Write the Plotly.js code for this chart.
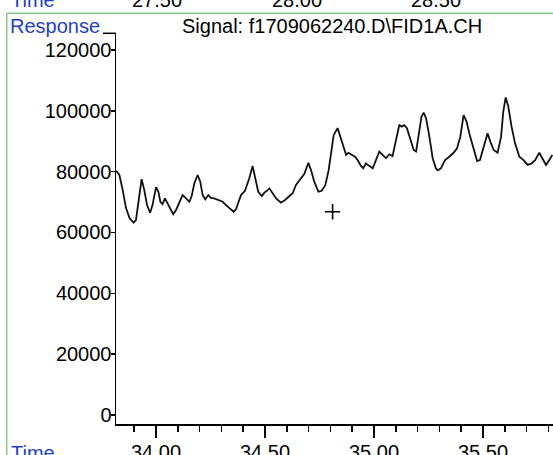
<!DOCTYPE html>
<html>
<head>
<meta charset="utf-8">
<script src="https://cdn.plot.ly/plotly-3.0.1.min.js"></script>
<style>
html,body{margin:0;padding:0;background:#fff;}
#chart{width:553px;height:455px;}
</style>
</head>
<body>
<div id="chart"></div>
<script>
// Signal trace (retention time in minutes, detector response)
const time = [
  33.817, 33.832, 33.847, 33.862, 33.878, 33.897, 33.908, 33.920, 33.934, 33.946,
  33.959, 33.973, 33.984, 34.000, 34.011, 34.020, 34.030, 34.041, 34.053, 34.066,
  34.079, 34.092, 34.107, 34.122, 34.138, 34.153, 34.163, 34.176, 34.191, 34.203,
  34.214, 34.226, 34.240, 34.252, 34.267, 34.283, 34.306, 34.321, 34.336, 34.356,
  34.367, 34.390, 34.408, 34.428, 34.443, 34.454, 34.469, 34.486, 34.497, 34.509,
  34.520, 34.535, 34.551, 34.573, 34.592, 34.612, 34.627, 34.642, 34.662, 34.680,
  34.699, 34.711, 34.726, 34.745, 34.760, 34.777, 34.792, 34.803, 34.815, 34.833,
  34.845, 34.861, 34.872, 34.882, 34.897, 34.913, 34.925, 34.940, 34.951, 34.963,
  34.978, 34.994, 35.009, 35.024, 35.039, 35.055, 35.070, 35.085, 35.101, 35.116,
  35.127, 35.139, 35.151, 35.167, 35.182, 35.193, 35.205, 35.218, 35.228, 35.239,
  35.254, 35.269, 35.284, 35.292, 35.307, 35.326, 35.345, 35.365, 35.381, 35.396,
  35.411, 35.425, 35.437, 35.452, 35.473, 35.486, 35.503, 35.521, 35.534, 35.549,
  35.567, 35.583, 35.593, 35.604, 35.616, 35.631, 35.647, 35.667, 35.686, 35.705,
  35.723, 35.739, 35.758, 35.773, 35.789, 35.804, 35.818
];
const response = [
  80300, 78900, 74000, 68100, 64800, 63200, 64100, 69700, 77500, 74000,
  69000, 66500, 69000, 74900, 73400, 70100, 69300, 71200, 69600, 67400,
  66000, 67400, 70100, 72300, 71200, 70100, 71800, 76200, 78900, 76700,
  72300, 70900, 72300, 71400, 71200, 70700, 70100, 69000, 68000, 66800,
  67600, 72300, 73700, 77800, 81900, 78300, 73400, 72000, 73100, 73700,
  74500, 72900, 71200, 69800, 70700, 72000, 72900, 75600, 77500, 79200,
  82900, 80500, 76700, 73400, 73700, 75600, 80500, 86600, 92000, 94300,
  91500, 87700, 85500, 86200, 85500, 84900, 83800, 81900, 81100, 82700,
  81900, 81100, 83800, 86600, 85500, 84400, 85700, 85100, 90400, 95300,
  94800, 95300, 94300, 90400, 87100, 86600, 92600, 98100, 99400, 97500,
  91500, 84400, 81100, 80400, 81100, 83800, 84900, 86200, 87700, 91500,
  98600, 96400, 92600, 88800, 83500, 83800, 88200, 92600, 89800, 87100,
  86200, 91500, 99700, 104400, 101400, 94800, 89300, 84900, 83800, 82200,
  82700, 83800, 86200, 84400, 82200, 83800, 85500
];
// Integration mark
const markTime = [34.810];
const markResponse = [66800];
// Texts
const signalTitle = 'Signal: f1709062240.D\\FID1A.CH';
const yLabel = 'Response';
const xLabel = 'Time';
const prevTickLabels = ['27.50', '28.00', '28.50'];
const prevTickPx = [157, 297, 436];

const W = 553, H = 455, L = 116, R = 0, T = 33, B = 31;
const pw = W - L - R, ph = H - T - B;
const px2x = p => (p - L) / pw;
const py2y = p => (H - B - p) / ph;

const FONT = 'Liberation Sans, Arial, sans-serif';
const BLUE = '#1f3fc4';
const GREEN = '#86c986';

const annotations = [
  {text: yLabel, xref: 'paper', yref: 'paper', x: px2x(8), y: py2y(26), xanchor: 'left', yanchor: 'middle',
   showarrow: false, font: {family: FONT, size: 20, color: BLUE}},
  {text: signalTitle, xref: 'paper', yref: 'paper', x: px2x(332), y: py2y(26), xanchor: 'center', yanchor: 'middle',
   showarrow: false, font: {family: FONT, size: 20, color: '#000'}},
  {text: xLabel, xref: 'paper', yref: 'paper', x: px2x(9), y: py2y(0), xanchor: 'left', yanchor: 'middle',
   showarrow: false, font: {family: FONT, size: 20, color: BLUE}},
  {text: xLabel, xref: 'paper', yref: 'paper', x: px2x(9), y: py2y(453), xanchor: 'left', yanchor: 'middle',
   showarrow: false, font: {family: FONT, size: 20, color: BLUE}}
];
prevTickLabels.forEach((t, i) => annotations.push({
  text: t, xref: 'paper', yref: 'paper', x: px2x(prevTickPx[i]), y: py2y(0), xanchor: 'center', yanchor: 'middle',
  showarrow: false, font: {family: FONT, size: 20, color: '#000'}
}));

const shapes = [
  {type: 'line', xref: 'paper', yref: 'paper', x0: px2x(6.7), x1: px2x(560), y0: py2y(13.3), y1: py2y(13.3),
   line: {color: GREEN, width: 1.5}},
  {type: 'line', xref: 'paper', yref: 'paper', x0: px2x(6.7), x1: px2x(6.7), y0: py2y(13.3), y1: py2y(470),
   line: {color: GREEN, width: 1.5}},
  {type: 'line', xref: 'paper', yref: 'paper', x0: px2x(103), x1: px2x(116), y0: py2y(33.3), y1: py2y(33.3),
   line: {color: '#000', width: 1.5}}
];

const traces = [
  {x: time, y: response, type: 'scatter', mode: 'lines', line: {color: '#111', width: 1.8}, hoverinfo: 'skip'},
  {x: markTime, y: markResponse, type: 'scatter', mode: 'markers',
   marker: {symbol: 'cross-thin', size: 11, line: {color: '#000', width: 1.6}}, hoverinfo: 'skip'}
];

const layout = {
  width: W, height: H,
  margin: {l: L, r: R, t: T, b: B, pad: 0},
  paper_bgcolor: '#fff', plot_bgcolor: '#fff',
  showlegend: false,
  font: {family: FONT, size: 20, color: '#000'},
  xaxis: {
    range: [33.8165, 33.8165 + pw / 218],
    tick0: 34, dtick: 0.5, tickformat: '.2f',
    ticks: 'outside', ticklen: 12, tickwidth: 1.5, tickcolor: '#000',
    ticklabelstandoff: -3,
    minor: {dtick: 0.1, tick0: 34, ticks: 'outside', ticklen: 6, tickwidth: 1.5, tickcolor: '#000', showgrid: false},
    showline: true, linecolor: '#000', linewidth: 1.5,
    showgrid: false, zeroline: false,
    tickfont: {family: FONT, size: 20, color: '#000'}
  },
  yaxis: {
    range: [-(424 - 415) * 328.73, (415 - 33) * 328.73],
    tick0: 0, dtick: 20000, tickformat: 'd',
    ticks: 'outside', ticklen: 4, tickwidth: 1.5, tickcolor: '#000',
    ticklabelstandoff: -5,
    showline: true, linecolor: '#000', linewidth: 1.5,
    showgrid: false, zeroline: false,
    tickfont: {family: FONT, size: 20, color: '#000'}
  },
  annotations: annotations,
  shapes: shapes
};

Plotly.newPlot('chart', traces, layout, {displayModeBar: false, staticPlot: true});
</script>
</body>
</html>
